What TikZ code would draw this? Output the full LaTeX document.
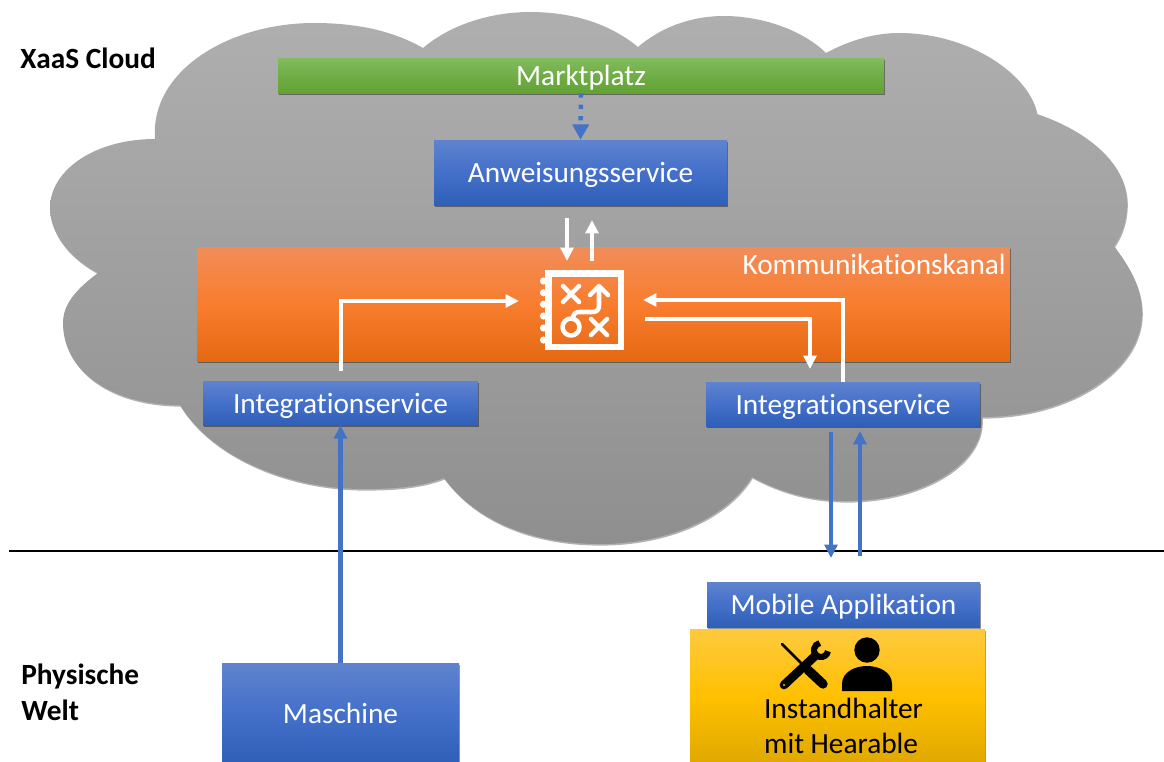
\documentclass[tikz,border=0pt]{standalone}
\usepackage{fontspec}
\setmainfont{Carlito}[RawFeature=-liga]
\usetikzlibrary{arrows.meta,shadows,calc}
\definecolor{bluetop}{HTML}{5F83CE}
\definecolor{bluemid}{HTML}{4470CA}
\definecolor{bluebot}{HTML}{2F5FB7}
\definecolor{arrowblue}{HTML}{4472C4}
\definecolor{greentop}{HTML}{83BB5E}
\definecolor{greenmid}{HTML}{70AD47}
\definecolor{greenbot}{HTML}{63A333}
\definecolor{orgtop}{HTML}{F28D59}
\definecolor{orgmid}{HTML}{F87D2E}
\definecolor{orgbot}{HTML}{E56913}
\definecolor{yeltop}{HTML}{FFC93F}
\definecolor{yelmid}{HTML}{FFC000}
\definecolor{yelbot}{HTML}{DFA800}
\definecolor{cloudtop}{HTML}{AFAFAF}
\definecolor{cloudbot}{HTML}{8F8F8F}
\tikzset{
  x=0.75pt,y=-0.75pt,
  txt/.style={font=\fontsize{22}{26.6}\selectfont,inner sep=0pt},
  boxsize/.style 2 args={minimum width=#1*0.75pt,minimum height=#2*0.75pt,inner sep=0pt,text height=15.5pt,text depth=0pt},
  softshadow/.style={drop shadow={shadow xshift=0.8pt,shadow yshift=-1.6pt,opacity=.4,fill=black}},
  bluebox/.style={txt,text=white,top color=bluetop,bottom color=bluebot,middle color=bluemid,softshadow},
  greenbox/.style={txt,text=white,top color=greentop,bottom color=greenbot,middle color=greenmid,softshadow},
  orangebox/.style={txt,top color=orgtop,bottom color=orgbot,middle color=orgmid,softshadow},
  yellowbox/.style={txt,top color=yeltop,bottom color=yelbot,middle color=yelmid,softshadow},
  bluearrow/.style={draw=arrowblue,line width=3.2pt,-{Triangle[width=9.5pt,length=10pt]}},
  whitearrow/.style={draw=white,line width=3pt,-{Triangle[width=9.5pt,length=10pt]}},
  dotarrow/.style={draw=arrowblue,line width=3.4pt,dash pattern=on 3.2pt off 5.4pt,-{Triangle[width=12pt,length=11.5pt,sep=0pt]}},
  iconline/.style={draw=white,line width=3.4pt,line cap=round,line join=round},
  sidelabel/.style={font=\fontsize{22}{27}\selectfont\bfseries,inner sep=0pt,align=left,anchor=west},
}
\begin{document}
\begin{tikzpicture}
\useasboundingbox (0,0) rectangle (1164,761);
% cloud
\path[top color=cloudtop,bottom color=cloudbot,shading angle=0,
      drop shadow={shadow xshift=0.6pt,shadow yshift=-1.2pt,opacity=.3,fill=black}]
 (155,139) .. controls (150,70) and (230,23) .. (314,23)
 .. controls (360,23) and (395,32) .. (423,48)
 .. controls (450,25) and (490,12) .. (530,12)
 .. controls (580,12) and (615,28) .. (638,47)
 .. controls (660,28) and (690,16) .. (724,16)
 .. controls (765,16) and (805,32) .. (826,53)
 .. controls (850,40) and (875,33) .. (899,33)
 .. controls (970,33) and (1030,75) .. (1037,114)
 .. controls (1090,132) and (1127,165) .. (1127,203)
 .. controls (1127,220) and (1122,235) .. (1114,246)
 .. controls (1132,270) and (1142,290) .. (1142,313)
 .. controls (1142,370) and (1070,417) .. (982,417)
 .. controls (985,465) and (920,501) .. (847,501)
 .. controls (810,501) and (780,492) .. (752,477)
 .. controls (725,520) and (665,544) .. (600,544)
 .. controls (530,544) and (475,520) .. (444,478)
 .. controls (420,487) and (395,489) .. (364,489)
 .. controls (285,489) and (210,455) .. (180,405)
 .. controls (110,405) and (63,370) .. (63,323)
 .. controls (63,305) and (75,290) .. (98,273)
 .. controls (65,255) and (50,230) .. (50,208)
 .. controls (50,170) and (95,139) .. (155,139) -- cycle;

% separator
\coordinate (sepL) at (9,551);
\coordinate (sepR) at (1164,551);
\draw[black,line width=1.6pt] (sepL) -- (sepR);

% boxes
\node[greenbox,boxsize={606}{35}] (markt) at (581,75.5) {Marktplatz};
\node[bluebox,boxsize={293}{65}] (anw) at (580.5,172.5) {Anweisungsservice};
\node[orangebox,boxsize={813}{114}] (kanal) at (603.5,304) {};
\node[txt,text=white,anchor=east] (kanallabel) at (1006,264) {Kommunikationskanal};
\node[bluebox,boxsize={275}{44}] (int1) at (340.5,403) {Integrationservice};
\node[bluebox,boxsize={274}{44}] (int2) at (843,404) {Integrationservice};
\node[yellowbox,boxsize={295}{136}] (inst) at (837.5,697) {};
\node[bluebox,boxsize={273}{45}] (mobil) at (843.5,604.5) {Mobile Applikation};
\node[bluebox,boxsize={237}{100}] (masch) at (340.5,713) {Maschine};
\node[txt,text=black,align=left] (insttext) at (843.5,726) {Instandhalter\\mit Hearable};

\node[sidelabel] (xaas) at (20,58) {XaaS Cloud};
\node[sidelabel] (phys) at (21,692.5) {Physische\\Welt};

% blue connectors
\draw[dotarrow] (markt.south -| anw.north) ++(0.5,0) coordinate (dotS) -- (anw.north);
\draw[bluearrow] (masch.north) -- (int1.south);
\coordinate (d1) at (831,432);
\coordinate (d2) at (831,558);
\coordinate (u1) at (860,556);
\coordinate (u2) at (860,431);
\draw[bluearrow] (d1) -- (d2);
\draw[bluearrow] (u1) -- (u2);

% white connectors
\coordinate (a1) at (567,218);
\coordinate (a2) at (567,261);
\coordinate (b1) at (592,261);
\coordinate (b2) at (592,220);
\draw[whitearrow] (a1) -- (a2);
\draw[whitearrow] (b1) -- (b2);
\coordinate (c0) at (341,371);
\coordinate (c1) at (519,301);
\draw[whitearrow] (c0) |- (c1);
\coordinate (e1) at (643,300);
\draw[whitearrow] (int2.north) |- (e1);
\coordinate (f0) at (645,319);
\coordinate (f1) at (810,369);
\draw[whitearrow] (f0) -| (f1);

% strategy icon
\draw[white,line width=5.2pt] (548.5,273.5) rectangle (621,347);
\foreach \yy in {281,292.7,304.3,316,328,340}{
  \fill[white] (543.5,\yy) circle (3.6);
}
\draw[iconline] (563,286) -- (579,302) (579,286) -- (563,302);
\draw[iconline] (591,319) -- (607,335) (607,319) -- (591,335);
\draw[iconline] (571,327) circle (8.5);
\draw[iconline] (573,319) .. controls (573,313) and (576,312) .. (580,312)
   -- (592,312) .. controls (597,312) and (599,310) .. (599,305) -- (599,287);
\draw[iconline] (590,295) -- (599,286) -- (608,295);

% tools icon
\draw[black,line width=2pt,line cap=round] (782,644) -- (801,663);
\draw[black,line width=7pt,line cap=round] (808,670) -- (823,684);
\draw[black,line width=6.5pt,line cap=round] (784,685) -- (815,656);
\draw[black,line width=4.6pt] (827.9,651.2) arc[start angle=10,end angle=260,radius=7];
\fill[yelmid] (784,685) circle (1.2);

% person icon
\fill[black] (867,650) circle (12.7);
\fill[black] (842,691) -- (842,684) .. controls (842,672) and (855,666) .. (867,666)
  .. controls (879,666) and (892,672) .. (892,684) -- (892,691) -- cycle;
\end{tikzpicture}
\end{document}
